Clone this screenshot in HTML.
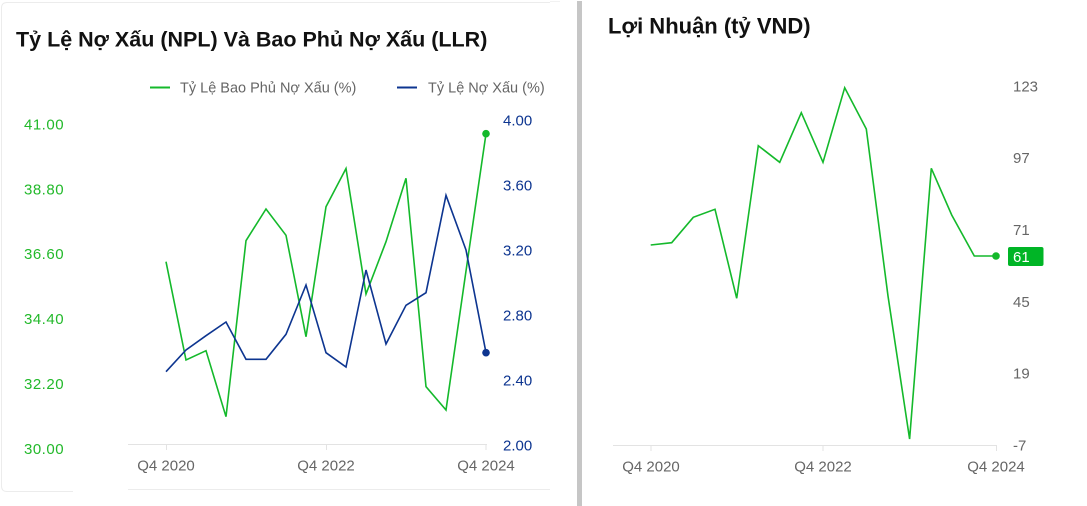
<!DOCTYPE html>
<html>
<head>
<meta charset="utf-8">
<style>
  html,body{margin:0;padding:0;background:#fff;}
  body{width:1087px;height:506px;overflow:hidden;position:relative;}
  svg{position:absolute;left:0;top:0;}
  text{font-family:"Liberation Sans","Noto Sans CJK SC",sans-serif;}
</style>
</head>
<body>
<svg width="1087" height="506" viewBox="0 0 1087 506" xmlns="http://www.w3.org/2000/svg">
  <!-- left card border -->
  <path d="M550 2.5 H7 Q1.5 2.5 1.5 8 V486 Q1.5 491.5 7 491.5 H73" fill="none" stroke="#ececec" stroke-width="1"/>
  <line x1="128" y1="489.5" x2="550" y2="489.5" stroke="#ececec" stroke-width="1"/>
  <line x1="550" y1="1.5" x2="560" y2="1.5" stroke="#f2f2f2" stroke-width="1"/>

  <!-- divider -->
  <rect x="577" y="1" width="5" height="505" fill="#c6c6c6"/>

  <!-- LEFT CHART -->
  <text x="16" y="46.5" font-size="21.5" font-weight="bold" fill="#111">Tỷ Lệ Nợ Xấu (NPL) Và Bao Phủ Nợ Xấu (LLR)</text>

  <!-- legend -->
  <line x1="150" y1="87.5" x2="170" y2="87.5" stroke="#14b92b" stroke-width="2"/>
  <text x="180" y="92.5" font-size="14.5" fill="#666">Tỷ Lệ Bao Phủ Nợ Xấu (%)</text>
  <line x1="397" y1="87.5" x2="417" y2="87.5" stroke="#0d3590" stroke-width="2"/>
  <text x="428" y="92.5" font-size="14.5" fill="#666">Tỷ Lệ Nợ Xấu (%)</text>

  <!-- left axis labels -->
  <g font-size="15" fill="#22b92a" letter-spacing="0.5">
    <text x="24" y="129.4">41.00</text>
    <text x="24" y="194.3">38.80</text>
    <text x="24" y="259.1">36.60</text>
    <text x="24" y="324">34.40</text>
    <text x="24" y="388.9">32.20</text>
    <text x="24" y="453.8">30.00</text>
  </g>
  <!-- right axis labels -->
  <g font-size="15" fill="#0d3590">
    <text x="503" y="125.4">4.00</text>
    <text x="503" y="190.4">3.60</text>
    <text x="503" y="255.4">3.20</text>
    <text x="503" y="320.4">2.80</text>
    <text x="503" y="385.4">2.40</text>
    <text x="503" y="450.4">2.00</text>
  </g>

  <!-- x axis -->
  <line x1="128" y1="444.5" x2="487" y2="444.5" stroke="#e3e3e3" stroke-width="1"/>
  <g stroke="#e3e3e3" stroke-width="1">
    <line x1="166.5" y1="444.5" x2="166.5" y2="450"/>
    <line x1="326.5" y1="444.5" x2="326.5" y2="450"/>
    <line x1="486" y1="444.5" x2="486" y2="450"/>
  </g>
  <g font-size="15" fill="#666" text-anchor="middle">
    <text x="166" y="470.4">Q4 2020</text>
    <text x="326" y="470.4">Q4 2022</text>
    <text x="486" y="470.4">Q4 2024</text>
  </g>

  <!-- green series (LLR) -->
  <polyline fill="none" stroke="#14b92b" stroke-width="1.6" stroke-linejoin="miter"
    points="166,261.7 186,360 206,350.7 226,416.7 246,240.7 266,209 286,235.3 306,336.7 326,206.7 346,168.5 366,294 386,241.7 406,178.3 426,386.7 446,410 466,271 486,133.7"/>
  <circle cx="486" cy="133.7" r="3.8" fill="#14b92b"/>

  <!-- blue series (NPL) -->
  <polyline fill="none" stroke="#0d3590" stroke-width="1.6"
    points="166,371.7 186,350 206,335.7 226,322 246,359.3 266,359.3 286,334.3 306,285 326,352.7 346,367 366,270 386,344 406,305.3 426,292.7 446,195.3 466,250 486,352.7"/>
  <circle cx="486" cy="352.7" r="3.8" fill="#0d3590"/>

  <!-- RIGHT CHART -->
  <text x="608" y="33.3" font-size="22" font-weight="bold" fill="#111">Lợi Nhuận (tỷ VND)</text>

  <g font-size="15" fill="#666">
    <text x="1013" y="91.4">123</text>
    <text x="1013" y="163.2">97</text>
    <text x="1013" y="235">71</text>
    <text x="1013" y="306.8">45</text>
    <text x="1013" y="378.6">19</text>
    <text x="1013" y="450.4">-7</text>
  </g>

  <line x1="613" y1="445.5" x2="997" y2="445.5" stroke="#e3e3e3" stroke-width="1"/>
  <g stroke="#e3e3e3" stroke-width="1">
    <line x1="651" y1="445.5" x2="651" y2="451"/>
    <line x1="823" y1="445.5" x2="823" y2="451"/>
    <line x1="996.5" y1="445.5" x2="996.5" y2="451"/>
  </g>
  <g font-size="15" fill="#666" text-anchor="middle">
    <text x="651" y="471.4">Q4 2020</text>
    <text x="823" y="471.4">Q4 2022</text>
    <text x="996" y="471.4">Q4 2024</text>
  </g>

  <polyline fill="none" stroke="#14b92b" stroke-width="1.6"
    points="650.7,245 671.7,242.7 693.3,217.3 715,209.3 736.7,298.3 758.3,145.7 779.7,162.3 801.3,112.7 823,162.3 844.7,87.7 866.3,129 888,296 909.6,439 931.3,168.3 951.7,215 974.3,256 996,256"/>
  <circle cx="996" cy="256" r="3.8" fill="#14b92b"/>

  <rect x="1008" y="247" width="35.5" height="19" rx="2" fill="#00b526"/>
  <text x="1013" y="261.8" font-size="15" fill="#fff">61</text>
</svg>
</body>
</html>
